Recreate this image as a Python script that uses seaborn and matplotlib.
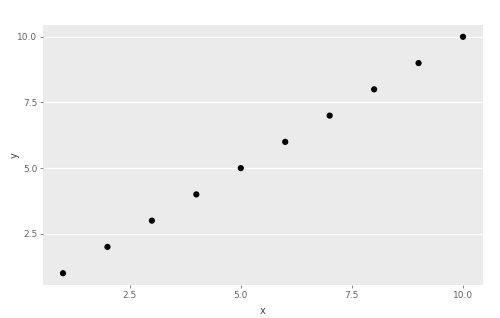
import matplotlib
matplotlib.use("Agg")
import matplotlib.pyplot as plt
import seaborn as sns
import pandas as pd

x_vals = [1, 2, 3, 4, 5, 6, 7, 8, 9, 10]
y_vals = [1, 2, 3, 4, 5, 6, 7, 8, 9, 10]
x_ticks = [2.5, 5.0, 7.5, 10.0]
y_ticks = [2.5, 5.0, 7.5, 10.0]

df = pd.DataFrame({"x": x_vals, "y": y_vals})

sns.set_theme(style="white")
plt.rcParams['font.family'] = ['DejaVu Sans']

fig = plt.figure(figsize=(5.0, 3.18), dpi=100)
ax = fig.add_axes([43/500, 1-285/318, (483-43)/500, (285-25)/318])
ax.set_facecolor("#EBEBEB")
sns.scatterplot(data=df, x="x", y="y", ax=ax, color="black", s=20, edgecolor="none", zorder=3)

ax.set_xlim(0.55, 10.45)
ax.set_ylim(0.55, 10.45)
ax.set_xticks(x_ticks)
ax.set_yticks(y_ticks)
ax.set_xticklabels([f"{t:.1f}" for t in x_ticks])
ax.set_yticklabels([f"{t:.1f}" for t in y_ticks])
ax.yaxis.grid(True, color="white", linewidth=1.0)
ax.xaxis.grid(False)
ax.set_axisbelow(True)
for s in ax.spines.values():
    s.set_visible(False)
ax.tick_params(axis="both", which="both", length=2.5, width=0.6, color="#777777",
               labelsize=6.5, labelcolor="#666666", pad=1.5, bottom=True, left=True)
ax.set_xlabel("x", fontsize=7, color="#444444")
ax.set_ylabel("y", fontsize=7, color="#444444")
ax.xaxis.set_label_coords(0.5, -0.08)
ax.yaxis.set_label_coords(-0.052, 0.5)

fig.savefig("out.png", dpi=100)
